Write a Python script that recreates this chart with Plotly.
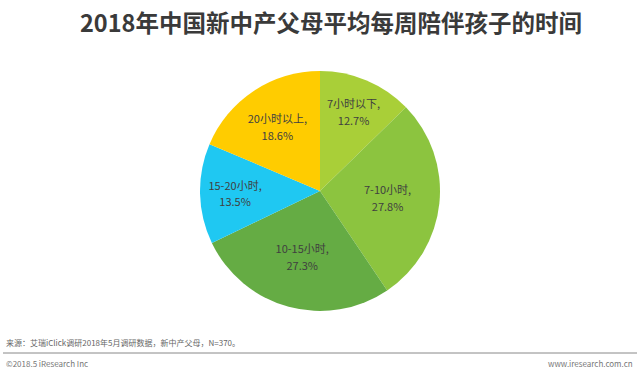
import plotly.graph_objects as go

labels = ["7小时以下", "7-10小时", "10-15小时", "15-20小时", "20小时以上"]
values = [12.7, 27.8, 27.3, 13.5, 18.6]
colors = ["#A9CF38", "#8CC43F", "#65AC44", "#1FC8F2", "#FFCC00"]

W, H = 640, 372
cx, cy, r = 320, 191, 120

fig = go.Figure(go.Pie(
    labels=labels, values=values, sort=False, direction="clockwise", rotation=0,
    marker=dict(colors=colors, line=dict(width=0)),
    texttemplate="<span style='font-size:11px'>%{label},</span><br>"
                 "<span style='font-size:11px'>%{value:.1f}%</span>",
    textposition="inside",
    insidetextorientation="horizontal",
    textfont=dict(family="Noto Sans CJK SC", size=13, color="#404040"),
    hoverinfo="skip", showlegend=False,
    domain=dict(x=[(cx - r) / W, (cx + r) / W], y=[(H - cy - r) / H, (H - cy + r) / H]),
))

fig.update_layout(
    width=W, height=H, margin=dict(l=0, r=0, t=0, b=0),
    paper_bgcolor="white", plot_bgcolor="white",
    uniformtext=dict(minsize=13, mode="show"),
    annotations=[
        dict(text="<b>2018年中国新中产父母平均每周陪伴孩子的时间</b>", x=331 / W, y=1 - 22 / H,
             xref="paper", yref="paper", showarrow=False, xanchor="center", yanchor="middle",
             font=dict(family="Noto Sans CJK SC", size=23.5, color="#3A3A3A")),
        dict(text="来源：艾瑞iClick调研2018年5月调研数据，新中产父母，N=370。", x=4 / W, y=1 - 342 / H,
             xref="paper", yref="paper", showarrow=False, xanchor="left", yanchor="middle",
             font=dict(family="Noto Sans CJK SC", size=8, color="#666666")),
        dict(text="©2018.5 iResearch Inc", x=4 / W, y=1 - 363 / H,
             xref="paper", yref="paper", showarrow=False, xanchor="left", yanchor="middle",
             font=dict(family="Noto Sans CJK SC", size=8, color="#777777")),
        dict(text="www.iresearch.com.cn", x=635 / W, y=1 - 363 / H,
             xref="paper", yref="paper", showarrow=False, xanchor="right", yanchor="middle",
             font=dict(family="Noto Sans CJK SC", size=8, color="#777777")),
    ],
    shapes=[dict(type="line", xref="paper", yref="paper", x0=3 / W, x1=637 / W,
                 y0=1 - 353 / H, y1=1 - 353 / H, line=dict(color="#888888", width=1))],
)

fig.write_html("out.html", config={"displayModeBar": False},
               post_script="document.body.style.margin='0';")
